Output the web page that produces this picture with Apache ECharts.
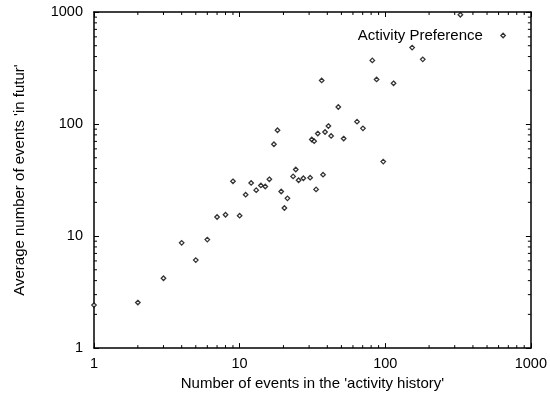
<!DOCTYPE html>
<html>
<head>
<meta charset="utf-8">
<script src="https://cdn.jsdelivr.net/npm/echarts@6/dist/echarts.min.js"></script>
<style>html,body{margin:0;padding:0;background:#fff;}#c{width:550px;height:396px;}</style>
</head>
<body>
<div id="c"></div>
<script>
var seriesName = 'Activity Preference';
var xTitle = "Number of events in the 'activity history'";
var yTitle = "Average number of events 'in futur'";
var historyCounts = [1, 2, 3, 4, 5, 6, 7, 8, 9, 10, 11, 12, 13, 14, 15, 16, 17.2, 18.2, 19.3, 20.3, 21.3, 23.3, 24.3, 25.4, 27.4, 30.5, 31.3, 32.5, 33.5, 34.4, 36.6, 37.4, 38.6, 40.7, 42.5, 47.6, 51.8, 64, 70.3, 81.5, 87.2, 96.9, 114, 153, 181, 328];
var futureAverages = [2.42, 2.55, 4.2, 8.7, 6.1, 9.3, 14.8, 15.5, 30.8, 15.2, 23.4, 29.8, 25.7, 28.3, 27.7, 32.1, 66, 88, 25.0, 17.8, 21.7, 34.1, 39.3, 31.5, 32.8, 33.2, 72.8, 70.3, 26.1, 82.2, 245, 35.3, 84.9, 95.9, 78.3, 142, 74.2, 105, 91.5, 370, 250, 46.2, 231, 481, 378, 944];
var minorTickValues = [2, 3, 4, 5, 6, 7, 8, 9, 20, 30, 40, 50, 60, 70, 80, 90, 200, 300, 400, 500, 600, 700, 800, 900];

var points = historyCounts.map(function (x, i) { return [x, futureAverages[i]]; });
var FONT = '"Liberation Sans", Arial, sans-serif';
var labelFmt = function (v) { return String(Math.round(v)); };

function logAxis(pos, showLabels, extra) {
  var a = {
    type: 'log', logBase: 10, min: 1, max: 1000, position: pos,
    axisLine: { show: true, onZero: false, lineStyle: { color: '#000', width: 1.5 } },
    axisTick: { show: true, inside: true, length: 5, lineStyle: { color: '#000', width: 1 } },
    axisLabel: { show: showLabels, color: '#000', fontSize: 14.5, fontFamily: FONT, formatter: labelFmt },
    splitLine: { show: false }
  };
  for (var k in extra) a[k] = extra[k];
  return a;
}

var chart = echarts.init(document.getElementById('c'), null, { renderer: 'canvas' });
chart.setOption({
  animation: false,
  backgroundColor: '#fff',
  grid: { left: 94, right: 17, top: 12, bottom: 43, containLabel: false },
  legend: {
    data: [{ name: seriesName, icon: 'diamond' }], right: 39, top: 23, align: 'right',
    itemWidth: 4.5, itemHeight: 4.5,
    itemStyle: { color: '#fff', borderColor: '#000', borderWidth: 1.3 },
    textStyle: { color: '#000', fontSize: 15, fontFamily: FONT, padding: [0, 13, 0, 0] }
  },
  xAxis: [
    logAxis('bottom', true, {
      name: xTitle, nameLocation: 'middle', nameGap: 24,
      nameTextStyle: { color: '#000', fontSize: 15, fontFamily: FONT },
      axisLabel: { show: true, color: '#000', fontSize: 14.5, fontFamily: FONT, margin: 8, formatter: labelFmt }
    }),
    logAxis('top', false, {})
  ],
  yAxis: [
    logAxis('left', true, {
      name: yTitle, nameLocation: 'middle', nameGap: 67,
      nameTextStyle: { color: '#000', fontSize: 15, fontFamily: FONT },
      axisLabel: { show: true, color: '#000', fontSize: 14.5, fontFamily: FONT, margin: 11, formatter: labelFmt }
    }),
    logAxis('right', false, {})
  ],
  series: [
    {
      name: seriesName, type: 'scatter', data: points,
      symbol: 'diamond', symbolSize: 4.5,
      itemStyle: { color: '#fff', borderColor: '#000', borderWidth: 1.3 },
      z: 5
    },
    {
      type: 'custom', silent: true, data: minorTickValues.map(function (v) { return [v, v]; }),
      renderItem: function (params, api) {
        var v = api.value(0);
        var cs = params.coordSys;
        var bx = api.coord([v, 1])[0];
        var ly = api.coord([1, v])[1];
        var L = 3;
        var st = { stroke: '#000', lineWidth: 1 };
        return {
          type: 'group', children: [
            { type: 'line', shape: { x1: bx, y1: cs.y + cs.height, x2: bx, y2: cs.y + cs.height - L }, style: st },
            { type: 'line', shape: { x1: bx, y1: cs.y, x2: bx, y2: cs.y + L }, style: st },
            { type: 'line', shape: { x1: cs.x, y1: ly, x2: cs.x + L, y2: ly }, style: st },
            { type: 'line', shape: { x1: cs.x + cs.width, y1: ly, x2: cs.x + cs.width - L, y2: ly }, style: st }
          ]
        };
      },
      z: 1
    }
  ]
});
</script>
</body>
</html>
